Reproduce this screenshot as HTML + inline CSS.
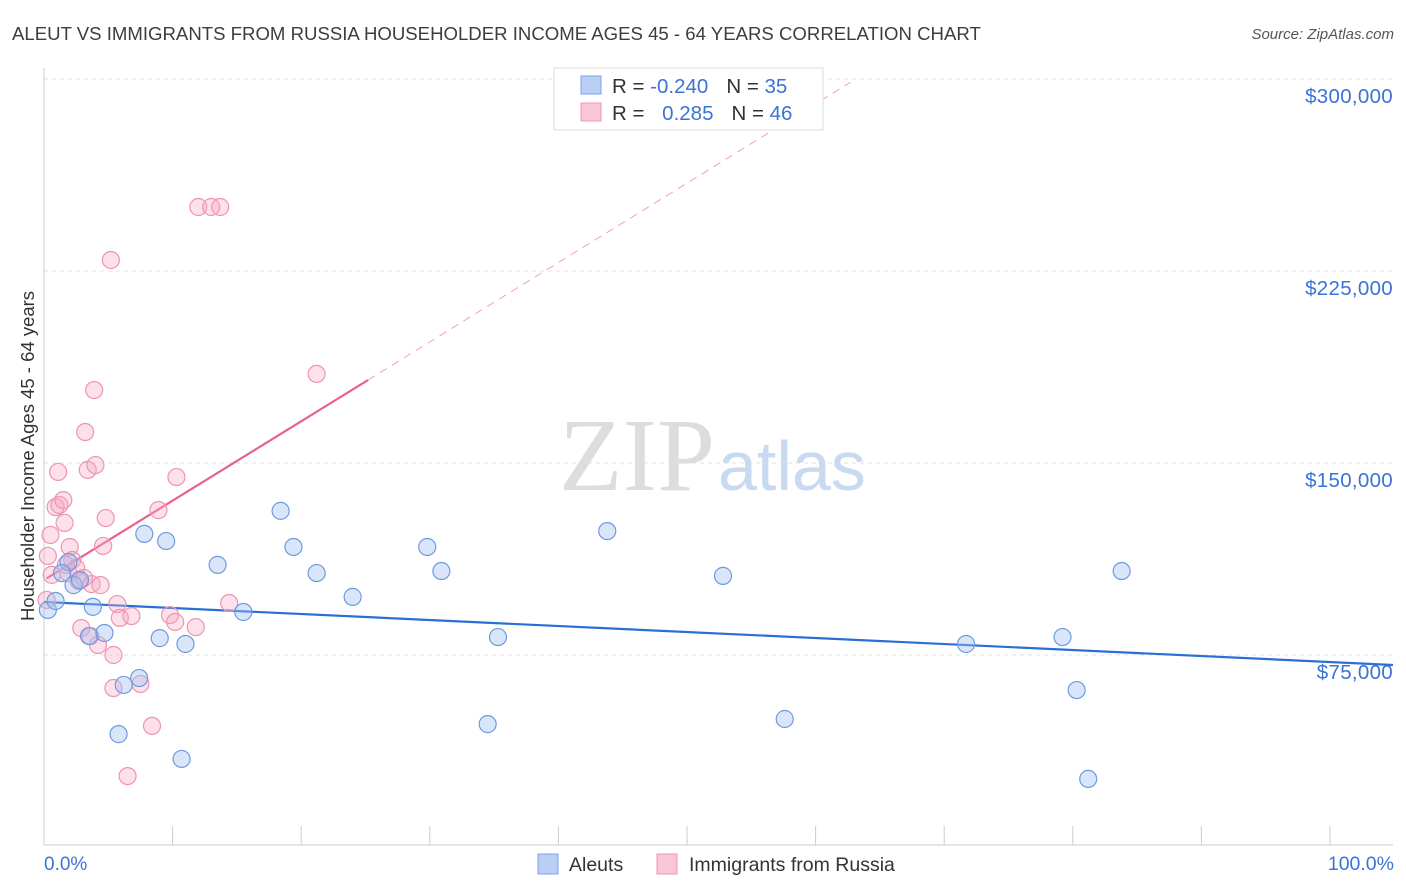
<!DOCTYPE html>
<html><head><meta charset="utf-8"><style>
body{margin:0;background:#fff;font-family:"Liberation Sans",sans-serif;}
svg{display:block}
</style></head><body>
<svg width="1406" height="892" xmlns="http://www.w3.org/2000/svg">
<text x="12" y="40" font-size="18.6" fill="#3d3d3d">ALEUT VS IMMIGRANTS FROM RUSSIA HOUSEHOLDER INCOME AGES 45 - 64 YEARS CORRELATION CHART</text>
<text x="1394" y="39" font-size="15" fill="#555" font-style="italic" text-anchor="end">Source: ZipAtlas.com</text>
<g id="grid"></g>
<g id="axes"></g>
<text x="715" y="490" font-size="104" fill="#ddd" text-anchor="end" font-family="Liberation Serif,serif">ZIP</text>
<text x="718" y="490" font-size="70" fill="#c9d9ef">atlas</text>
<g id="trend"></g>
<g id="pts"></g>
<text transform="translate(34,456) rotate(-90)" font-size="18.5" fill="#333" text-anchor="middle">Householder Income Ages 45 - 64 years</text>
<text x="44" y="870" font-size="19" fill="#3b73d6">0.0%</text>
<text x="1394" y="870" font-size="19.5" fill="#3b73d6" text-anchor="end">100.0%</text>
<g>
<rect x="554" y="68" width="269" height="62" fill="#fff" stroke="#ddd"/>
<rect x="581" y="76" width="20" height="18" fill="#b9d0f4" stroke="#7aa3e6"/>
<rect x="581" y="103" width="20" height="18" fill="#f9c6d6" stroke="#ee94b2"/>
<text x="612" y="93" font-size="20.5" fill="#333">R = <tspan fill="#3b73d6">-0.240</tspan><tspan dx="18">N = </tspan><tspan fill="#3b73d6">35</tspan></text>
<text x="612" y="120" font-size="20.5" fill="#333">R = <tspan fill="#3b73d6" dx="12">0.285</tspan><tspan dx="18">N = </tspan><tspan fill="#3b73d6">46</tspan></text>
</g>
<g>
<rect x="538" y="854" width="20" height="20" fill="#b9d0f4" stroke="#7aa3e6"/>
<text x="569" y="871" font-size="19.5" fill="#333">Aleuts</text>
<rect x="657" y="854" width="20" height="20" fill="#f9c6d6" stroke="#ee94b2"/>
<text x="689" y="871" font-size="19.5" fill="#333">Immigrants from Russia</text>
</g>
</svg>
<script>
const yTicks=[75000,150000,225000,300000];
const yTickLabels=["$75,000","$150,000","$225,000","$300,000"];
const xTicks=[0,10,20,30,40,50,60,70,80,90,100];
const aleutX=[0.3,0.9,1.9,2.3,2.8,3.8,3.5,4.7,5.8,6.2,7.4,7.8,9.0,9.5,11.0,10.7,13.5,15.5,18.4,19.4,21.2,24.0,29.8,30.9,34.5,35.3,43.8,52.8,57.6,71.7,79.2,80.3,81.2,83.8,1.4];
const aleutY=[92.6,96.1,111.3,102.3,104.3,93.8,82.4,83.6,44.1,63.3,66.0,122.3,81.6,119.5,79.3,34.4,110.2,91.8,131.3,117.2,107.0,97.7,117.2,107.8,48.0,82.0,123.4,105.9,50.0,79.3,82.0,61.3,26.6,107.8,107.0];
const russiaX=[0.3,0.5,0.6,0.9,1.1,1.2,1.5,1.6,1.9,2.0,2.2,2.5,2.7,2.9,3.2,3.4,3.6,3.7,4.0,3.9,4.2,4.4,4.6,4.8,5.2,5.4,5.4,5.7,5.9,6.5,6.8,7.5,8.4,8.9,9.8,10.2,10.3,11.8,12.0,13.0,13.7,14.4,21.2,3.1,1.7,0.2];
const russiaY=[113.7,121.9,106.3,132.8,146.5,133.6,135.5,126.6,107.0,117.2,112.1,109.0,103.9,85.5,162.1,147.3,82.4,102.7,149.2,178.5,78.9,102.3,117.6,128.5,229.3,75.0,62.1,94.9,89.5,27.7,90.2,63.7,47.3,131.6,90.6,87.9,144.5,85.9,250.0,250.0,250.0,95.3,184.8,105.1,110.2,96.5];
const aleutTrend=[95.7,71.1];   // value at x=0 and x=104.9
const russiaTrend=[104.3,3.1];  // intercept, slope per %
const NS="http://www.w3.org/2000/svg";
const X=p=>44+p*12.86, Y=v=>847-v*1000*192/75000;
function mk(t,a,parent){const e=document.createElementNS(NS,t);for(const k in a)e.setAttribute(k,a[k]);document.getElementById(parent).appendChild(e);return e;}
yTicks.forEach((v,i)=>{
 const l=mk('line',{x1:44,x2:1393,y1:Y(v/1000),y2:Y(v/1000),stroke:'#e2e2e2','stroke-dasharray':'4,4'},'grid');
 
 
 const t=mk('text',{x:1393,y:Y(v/1000)+24,'font-size':20.5,fill:'#3b73d6','text-anchor':'end','letter-spacing':'0.3'},'grid');
 t.textContent=yTickLabels[i];
 
 
});
mk('line',{x1:44,x2:44,y1:68,y2:845,stroke:'#ccc'},'axes');
mk('line',{x1:44,x2:1393,y1:845,y2:845,stroke:'#ccc'},'axes');
xTicks.forEach(p=>{const l=mk('line',{x1:X(p),x2:X(p),y1:826,y2:845,stroke:'#ccc'},'axes');
 
 });
let bl=mk('line',{x1:X(0),y1:Y(aleutTrend[0]),x2:X(104.9),y2:Y(aleutTrend[1]),stroke:'#2a6fd6','stroke-width':2.2},'trend');


const rx1=0.2,rx2=25.2,rx3=62.7;
let pd=mk('line',{x1:X(rx2),y1:Y(russiaTrend[0]+russiaTrend[1]*rx2),x2:X(rx3),y2:Y(russiaTrend[0]+russiaTrend[1]*rx3),stroke:'#f0a0b8','stroke-width':1,'stroke-dasharray':'8,6'},'trend');


let ps=mk('line',{x1:X(rx1),y1:Y(russiaTrend[0]+russiaTrend[1]*rx1),x2:X(rx2),y2:Y(russiaTrend[0]+russiaTrend[1]*rx2),stroke:'#e8628e','stroke-width':2.2},'trend');


russiaX.forEach((x,i)=>{const c=mk('circle',{cx:X(x),cy:Y(russiaY[i]),r:8.5,fill:'rgba(246,170,196,0.35)',stroke:'#ee94b2','stroke-width':1.2},'pts');
 
 });
aleutX.forEach((x,i)=>{const c=mk('circle',{cx:X(x),cy:Y(aleutY[i]),r:8.5,fill:'rgba(160,192,240,0.4)',stroke:'#6f9ae0','stroke-width':1.2},'pts');
 
 });
</script>
</body></html>
